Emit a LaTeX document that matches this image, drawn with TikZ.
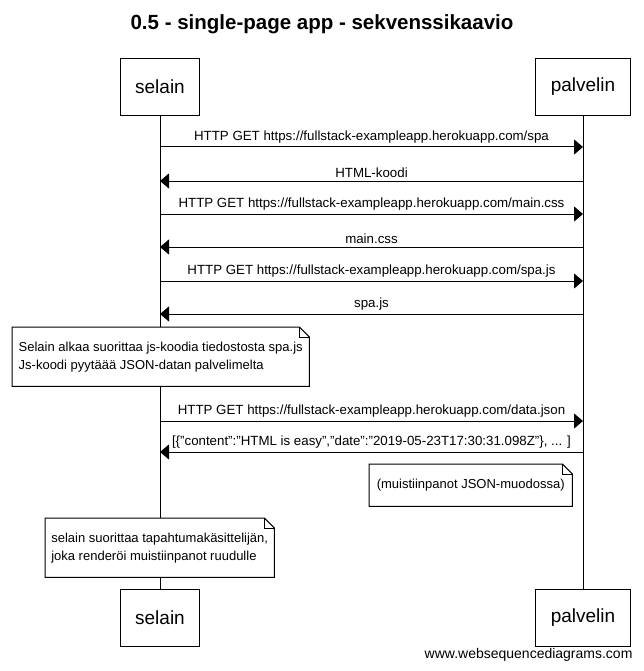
\documentclass[tikz,border=0pt]{standalone}
\usepackage{fontspec}
\setmainfont{Liberation Sans}
\usetikzlibrary{arrows.meta}

% folded corner round a note node
\newcommand{\dogear}[1]{%
	\draw[fold] (#1.north west) -- ([xshift=-10pt]#1.north east) -- ([yshift=-10pt]#1.north east) -- (#1.south east) -- (#1.south west) -- cycle;
	\draw[fold] ([xshift=-10pt]#1.north east) |- ([yshift=-10pt]#1.north east);%
}

\begin{document}
\begin{tikzpicture}[x=1pt,y=-1pt,
	actor/.style={draw,fill=white,line width=1pt,minimum height=57pt,inner xsep=15pt,font=\fontsize{19}{22}\selectfont},
	msg/.style={line width=1pt,-{Triangle[length=9pt,width=15pt]}},
	msgtext/.style={above,inner sep=3pt,font=\fontsize{13.3}{15}\selectfont},
	note/.style={fill=white,inner xsep=2pt,inner ysep=0pt,align=left,anchor=north west,font=\fontsize{13}{18}\selectfont},
	fold/.style={line width=1pt}]

	\useasboundingbox (0,0) rectangle (644,671);
	\node (Title) at (322,24) {\fontsize{20.5}{24}\selectfont\bfseries 0.5 - single-page app - sekvenssikaavio};

	% participants, top and bottom
	\node[actor] (Selain) at (160,87) {selain};
	\node[actor] (Palvelin) at (583,87) {palvelin};
	\node[actor] (SelainEnd) at (160,617.5) {selain};
	\node[actor] (PalvelinEnd) at (583,617.5) {palvelin};
	\draw[line width=1pt] (Selain) -- (SelainEnd);
	\draw[line width=1pt] (Palvelin) -- (PalvelinEnd);

	\foreach \n/\y/\from/\to/\txt in {%
		1/147/s/p/{HTTP GET https://fullstack-exampleapp.herokuapp.com/spa},
		2/181/p/s/{HTML-koodi},
		3/214/s/p/{HTTP GET https://fullstack-exampleapp.herokuapp.com/main.css},
		4/247/p/s/{main.css},
		5/281/s/p/{HTTP GET https://fullstack-exampleapp.herokuapp.com/spa.js},
		6/314/p/s/{spa.js},
		7/421/s/p/{HTTP GET https://fullstack-exampleapp.herokuapp.com/data.json},
		8/452/p/s/{[\{"content":"HTML is easy","date":"2019-05-23T17:30:31.098Z"\}, ... ]}}{% one message per row
		\coordinate (s\n) at (160,\y);
		\coordinate (p\n) at (583,\y);
		\draw[msg] (\from\n) -- (\to\n) node[midway,msgtext] {\txt};
	}

	% notes
	\node[note,minimum width=297pt,minimum height=59pt] (NoteJs) at (12,327)
		{Selain alkaa suorittaa js-koodia tiedostosta spa.js\\Js-koodi pyytäää JSON-datan palvelimelta};
	\dogear{NoteJs}
	\node[note,align=center,minimum width=203pt,minimum height=42pt] (NoteJson) at (369,464)
		{(muistiinpanot JSON-muodossa)};
	\dogear{NoteJson}
	\node[note,minimum width=229pt,minimum height=59pt] (NoteRender) at (45,518)
		{selain suorittaa tapahtumakäsittelijän,\\joka renderöi muistiinpanot ruudulle};
	\dogear{NoteRender}

	\node[anchor=east,font=\fontsize{14}{16}\selectfont] (Footer) at (636,655) {www.websequencediagrams.com};

\end{tikzpicture}
\end{document}
